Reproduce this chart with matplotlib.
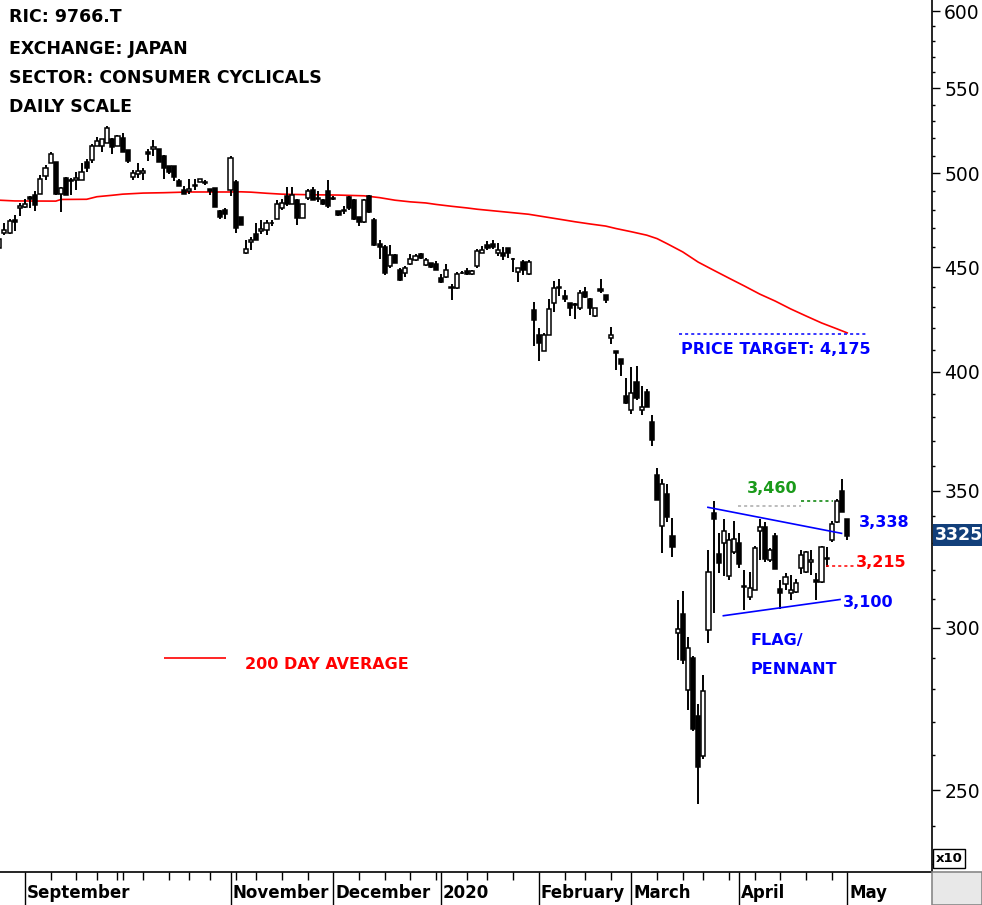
import numpy as np
import pandas as pd
import matplotlib
matplotlib.use('Agg')
import matplotlib.pyplot as plt
from matplotlib.patches import Rectangle
from matplotlib.ticker import FixedLocator, FuncFormatter, NullFormatter

# ---------------- data ----------------
holidays = ['2019-09-16', '2019-09-23', '2019-10-14', '2019-10-22', '2019-11-04',
            '2019-12-31', '2020-01-01', '2020-01-02', '2020-01-03', '2020-01-13',
            '2020-02-11', '2020-02-24', '2020-03-20', '2020-04-29']
dates = pd.bdate_range('2019-08-26', '2020-05-01')
dates = dates[~dates.isin(pd.to_datetime(holidays))]

ohlc = [
    (4596, 4650, 4580, 4643), (4674, 4728, 4664, 4690), (4673, 4750, 4670, 4740), (4745, 4770, 4685, 4735),
    (4810, 4837, 4766, 4820), (4812, 4860, 4810, 4830), (4870, 4875, 4810, 4860), (4880, 4900, 4790, 4825),
    (4883, 4988, 4883, 4970), (4983, 5045, 4960, 5028), (5060, 5120, 5060, 5108), (5062, 5062, 4880, 4883),
    (4883, 4925, 4785, 4920), (4972, 4977, 4877, 4877), (4955, 4975, 4880, 4962), (4960, 5007, 4906, 4974),
    (4960, 5060, 4960, 5010), (5065, 5080, 5010, 5030), (5078, 5170, 5058, 5156), (5156, 5210, 5156, 5184),
    (5156, 5194, 5120, 5194), (5173, 5270, 5173, 5260), (5196, 5200, 5108, 5150), (5156, 5220, 5156, 5212),
    (5205, 5230, 5120, 5120), (5131, 5131, 5060, 5070), (4979, 5017, 4960, 5000), (4995, 5060, 4975, 5011),
    (5000, 5030, 4960, 5011), (5120, 5140, 5070, 5110), (5140, 5189, 5100, 5148), (5137, 5140, 5065, 5065),
    (5100, 5105, 4970, 5030), (5040, 5040, 4995, 5005), (5040, 5040, 4955, 4980), (4955, 4966, 4930, 4930),
    (4905, 4930, 4883, 4883), (4900, 4966, 4883, 4910), (4930, 4966, 4905, 4936), (4950, 4970, 4950, 4970),
    (4952, 4960, 4934, 4943), (4910, 4910, 4880, 4900), (4917, 4920, 4813, 4813), (4792, 4800, 4749, 4762),
    (4797, 4807, 4749, 4776), (4907, 5100, 4875, 5089), (4952, 4960, 4676, 4700), (4758, 4760, 4718, 4718),
    (4570, 4638, 4565, 4591), (4627, 4652, 4586, 4641), (4668, 4728, 4641, 4641), (4685, 4744, 4668, 4698),
    (4690, 4744, 4665, 4727), (4727, 4744, 4715, 4730), (4747, 4851, 4747, 4833), (4806, 4856, 4797, 4838),
    (4875, 4922, 4820, 4830), (4830, 4922, 4830, 4880), (4851, 4860, 4716, 4753), (4753, 4833, 4753, 4833),
    (4865, 4910, 4850, 4903), (4907, 4922, 4850, 4854), (4860, 4900, 4840, 4865), (4851, 4860, 4825, 4830),
    (4899, 4961, 4810, 4821), (4858, 4875, 4850, 4862), (4790, 4795, 4765, 4770), (4790, 4818, 4775, 4800),
    (4870, 4875, 4800, 4806), (4851, 4860, 4745, 4749), (4758, 4760, 4710, 4732), (4732, 4860, 4730, 4851),
    (4872, 4880, 4780, 4785), (4744, 4755, 4607, 4612), (4617, 4638, 4540, 4602), (4602, 4612, 4460, 4472),
    (4507, 4612, 4494, 4560), (4561, 4565, 4518, 4522), (4484, 4495, 4430, 4434), (4472, 4503, 4450, 4497),
    (4515, 4568, 4510, 4540), (4535, 4568, 4530, 4556), (4568, 4573, 4543, 4548), (4510, 4548, 4505, 4535),
    (4518, 4520, 4497, 4501), (4515, 4530, 4484, 4487), (4447, 4465, 4420, 4426), (4451, 4515, 4447, 4487),
    (4400, 4414, 4336, 4395), (4396, 4475, 4390, 4464), (4468, 4478, 4464, 4472), (4480, 4494, 4458, 4464),
    (4464, 4485, 4460, 4478), (4507, 4591, 4494, 4581), (4574, 4610, 4570, 4586), (4615, 4633, 4586, 4595),
    (4620, 4638, 4590, 4605), (4570, 4624, 4555, 4586), (4572, 4600, 4535, 4558), (4598, 4598, 4545, 4574),
    (4540, 4548, 4474, 4542), (4475, 4487, 4424, 4495), (4525, 4535, 4460, 4484), (4465, 4535, 4460, 4527),
    (4288, 4327, 4120, 4240), (4170, 4203, 4050, 4134), (4095, 4180, 4095, 4170), (4168, 4341, 4168, 4295),
    (4320, 4429, 4280, 4393), (4400, 4439, 4356, 4393), (4356, 4385, 4325, 4343), (4323, 4323, 4260, 4296),
    (4316, 4320, 4245, 4312), (4296, 4385, 4288, 4373), (4377, 4400, 4346, 4353), (4339, 4345, 4265, 4296),
    (4260, 4296, 4255, 4296), (4391, 4439, 4370, 4378), (4361, 4361, 4320, 4336), (4154, 4207, 4127, 4168),
    (4095, 4095, 4010, 4086), (4058, 4058, 3982, 4035), (3891, 3973, 3860, 3863), (3832, 4020, 3814, 3905),
    (3955, 4025, 3876, 3883), (3832, 3937, 3810, 3844), (3912, 3925, 3846, 3846), (3779, 3812, 3680, 3703),
    (3562, 3592, 3464, 3464), (3363, 3547, 3264, 3526), (3488, 3526, 3380, 3398), (3326, 3394, 3250, 3286),
    (2982, 3095, 2893, 2995), (3048, 3126, 2880, 2893), (2798, 2969, 2735, 2932), (2901, 2908, 2672, 2677),
    (2717, 2754, 2460, 2566), (2598, 2845, 2590, 2795), (2993, 3274, 2950, 3195), (3412, 3458, 3050, 3392),
    (3260, 3336, 3190, 3227), (3300, 3389, 3180, 3345), (3180, 3336, 3165, 3310), (3268, 3382, 3260, 3314),
    (3300, 3336, 3210, 3222), (3140, 3200, 3061, 3145), (3106, 3195, 3095, 3139), (3130, 3290, 3130, 3282),
    (3346, 3389, 3237, 3358), (3358, 3380, 3230, 3242), (3239, 3280, 3230, 3274), (3327, 3338, 3204, 3204),
    (3135, 3165, 3064, 3119), (3153, 3190, 3130, 3177), (3121, 3182, 3095, 3131), (3122, 3168, 3120, 3156),
    (3208, 3274, 3188, 3256), (3195, 3270, 3190, 3266), (3230, 3275, 3185, 3238), (3167, 3190, 3095, 3158),
    (3158, 3290, 3155, 3286), (3240, 3284, 3213, 3245), (3311, 3382, 3305, 3372), (3380, 3467, 3375, 3458),
    (3499, 3547, 3417, 3417), (3390, 3390, 3310, 3325),
]
opens = np.array([r[0] for r in ohlc], float)
highs = np.array([r[1] for r in ohlc], float)
lows = np.array([r[2] for r in ohlc], float)
closes = np.array([r[3] for r in ohlc], float)

# 200-day moving average (trading-day index, price)
ma_idx = [0, 3, 11, 12, 17, 19, 22, 24, 28, 32, 37, 45, 47, 49, 52, 55, 60, 66, 71, 74, 77, 80, 83, 85,
          88, 91, 93, 103, 110, 112, 115, 118, 120, 123, 126, 128, 130, 133, 136, 139, 142, 145, 148,
          151, 154, 157, 160, 163, 165]
ma_vals = [4851, 4847, 4846, 4855, 4856, 4870, 4878, 4884, 4890, 4892, 4896, 4896, 4897, 4895, 4889,
           4884, 4881, 4879, 4875, 4865, 4851, 4842, 4836, 4828, 4818, 4809, 4802, 4775, 4744, 4735,
           4723, 4712, 4699, 4682, 4664, 4646, 4619, 4577, 4525, 4484, 4444, 4405, 4365, 4331, 4293,
           4259, 4226, 4198, 4179]

price_target = 4175
level_high = 3460
level_mid = 3215
upper_trend = ([137.9, 163.9], [3435, 3336])
lower_trend = ([140.9, 163.6], [3041, 3097])
last_price = 3325

month_names = {9: 'September', 11: 'November', 12: 'December', 1: '2020',
               2: 'February', 3: 'March', 4: 'April', 5: 'May'}

# ---------------- figure ----------------
W, H = 982, 905
fig = plt.figure(figsize=(W / 100, H / 100), dpi=100)
fig.patch.set_facecolor('white')
ax = fig.add_axes([0, 33 / H, 932 / W, 872 / H])
ax.set_yscale('log')

x = np.arange(len(dates))
up = closes >= opens
ax.vlines(x, lows, highs, color='black', lw=1.4, zorder=2)
bot = np.minimum(opens, closes)
top = np.maximum(opens, closes)
ax.bar(x, top - bot, bottom=bot, width=0.8,
       color=np.where(up, 'white', 'black'), edgecolor='black', linewidth=1.1, zorder=3)

ax.plot(ma_idx, ma_vals, color='red', lw=1.2, zorder=1)

ax.set_xlim(0.14, 181.5)
ax.set_ylim(2280, 6075)

# y axis on right
ax.yaxis.tick_right()
ax.yaxis.set_major_locator(FixedLocator(np.arange(2500, 6001, 500)))
ax.yaxis.set_minor_locator(FixedLocator([v for v in range(2300, 6100, 100) if v % 500]))
ax.yaxis.set_major_formatter(FuncFormatter(lambda v, p: f'{v / 10:.0f}'))
ax.yaxis.set_minor_formatter(NullFormatter())
ax.tick_params(axis='y', which='major', direction='out', length=5.8, width=1, labelsize=13.5, pad=3)
ax.tick_params(axis='y', which='minor', direction='out', length=2.5, width=1)

# x axis ticks
d = pd.Series(dates)
month_first = d.groupby([d.dt.year, d.dt.month]).apply(lambda s: s.index[0]).values
month_first_m = d.groupby([d.dt.year, d.dt.month]).apply(lambda s: s.iloc[0].month).values
week_first = d.groupby(d.dt.to_period('W')).apply(lambda s: s.index[0]).values
major_x = [i for i, m in zip(month_first, month_first_m) if m in month_names and i > 0]
minor_x = sorted(set(list(week_first) + [i for i, m in zip(month_first, month_first_m) if m not in month_names]) - set(major_x))
ax.xaxis.set_major_locator(FixedLocator(major_x))
ax.xaxis.set_minor_locator(FixedLocator(minor_x))
ax.xaxis.set_major_formatter(NullFormatter())
ax.xaxis.set_minor_formatter(NullFormatter())
ax.tick_params(axis='x', which='major', direction='out', length=24, width=1)
ax.tick_params(axis='x', which='minor', direction='out', length=6, width=1)
for i, m in zip(month_first, month_first_m):
    if m in month_names and i > 0:
        ax.text(i + 0.35, -21 / 872, month_names[m], transform=ax.get_xaxis_transform(),
                fontsize=12, fontweight='bold', ha='left', va='center')

for s in ['left', 'top']:
    ax.spines[s].set_visible(False)
ax.spines['right'].set_linewidth(1.2)
ax.spines['bottom'].set_linewidth(1.2)

# annotations
ax.hlines(price_target, 132.2, 169, colors='blue', linestyles=(0, (2, 2)), lw=1.1)
ax.text(132.6, 4100, 'PRICE TARGET: 4,175', color='blue', fontsize=11.5, fontweight='bold', va='center')
ax.hlines(3441, 143.7, 156.0, colors='#aaaaaa', linestyles=(0, (2, 2)), lw=1.1)
ax.hlines(level_high, 156.0, 162.2, colors='green', linestyles=(0, (2, 2)), lw=1.1)
ax.text(145.5, 3507, '3,460', color='#1a9a1a', fontsize=11.5, fontweight='bold', va='center')
ax.hlines(level_mid, 160.9, 166.7, colors='red', linestyles=(0, (2, 2)), lw=1.1)
ax.text(166.7, 3227, '3,215', color='red', fontsize=11.5, fontweight='bold', va='center')
ax.plot(*upper_trend, color='blue', lw=1.2, zorder=4)
ax.plot(*lower_trend, color='blue', lw=1.2, zorder=4)
ax.text(167.3, 3376, '3,338', color='blue', fontsize=11.5, fontweight='bold', va='center')
ax.text(164.1, 3085, '3,100', color='blue', fontsize=11.5, fontweight='bold', va='center')
ax.text(146.2, 2957, 'FLAG/', color='blue', fontsize=11.5, fontweight='bold', va='center')
ax.text(146.2, 2864, 'PENNANT', color='blue', fontsize=11.5, fontweight='bold', va='center')
ax.hlines(2900, 32, 44.1, colors='red', lw=1.2)
ax.text(47.8, 2880, '200 DAY AVERAGE', color='red', fontsize=11.5, fontweight='bold', va='center')

# header
for yy, t in zip([17, 49, 78, 107], ['RIC: 9766.T', 'EXCHANGE: JAPAN', 'SECTOR: CONSUMER CYCLICALS', 'DAILY SCALE']):
    fig.text(9 / W, 1 - yy / H, t, fontsize=12.5, fontweight='bold', ha='left', va='center')

# last price box
fig.add_artist(Rectangle((933 / W, 1 - 546 / H), 49 / W, 22 / H, transform=fig.transFigure,
                         facecolor='#123f7a', edgecolor='none'))
fig.text(935 / W, 1 - 535 / H, f'{last_price}', color='white', fontsize=12.5, fontweight='bold',
         ha='left', va='center')

# x10 box
fig.text(949 / W, 1 - 858.5 / H, 'x10', fontsize=9.5, fontweight='bold', ha='center', va='center',
         bbox=dict(boxstyle='square,pad=0.2', facecolor='white', edgecolor='black', lw=1))

# bottom-right gray box
fig.add_artist(Rectangle((932 / W, 0), 50 / W, 33 / H, transform=fig.transFigure,
                         facecolor='#e8e8e8', edgecolor='#888888', lw=1.2))

fig.savefig('out.png', dpi=100)
